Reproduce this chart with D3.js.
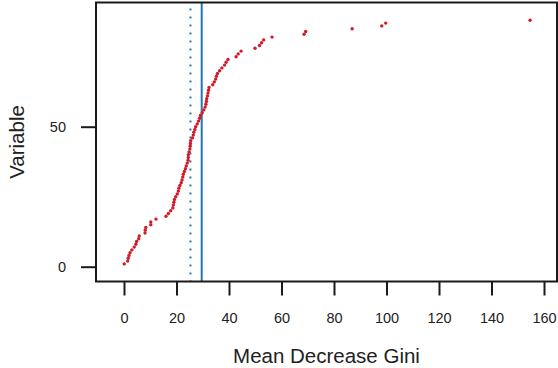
<!DOCTYPE html>
<html>
<head>
<meta charset="utf-8">
<script src="https://cdn.jsdelivr.net/npm/d3@7"></script>
<style>
  html, body { margin: 0; padding: 0; background: #fff; }
  svg text { font-family: "Liberation Sans", Arial, sans-serif; fill: #222; }
</style>
</head>
<body>
<div id="chart"></div>
<script>
var svgWidth = 558;
var svgHeight = 368;

// mean decrease gini per variable, sorted (variable rank 1..88)
var giniValues = [
  0.1, 1.4, 1.6, 1.9, 2.3, 3.0, 3.9, 4.5, 4.8, 5.6,
  5.8, 8.0, 8.1, 8.3, 10.2, 10.2, 12.2, 16.0, 16.9, 17.8,
  18.6, 18.8, 19.0, 19.2, 19.7, 20.3, 20.7, 20.9, 21.3, 21.8,
  22.1, 22.4, 22.6, 23.0, 23.4, 23.7, 24.1, 24.4, 24.5, 24.5,
  24.8, 25.1, 25.2, 25.3, 25.4, 26.1, 26.4, 26.6, 27.0, 27.3,
  27.9, 28.4, 28.8, 29.1, 29.8, 30.4, 30.9, 31.2, 31.4, 31.5,
  31.8, 32.0, 32.2, 32.4, 33.8, 34.4, 34.9, 35.2, 35.6, 36.4,
  37.3, 38.3, 38.9, 39.6, 42.7, 43.5, 44.6, 49.9, 51.6, 52.4,
  53.2, 56.4, 68.6, 69.2, 86.9, 98.2, 99.7, 154.7
];
var xTicks = [0, 20, 40, 60, 80, 100, 120, 140, 160];
var yTicks = [0, 50];
var medianLine = 25.3;
var meanLine = 29.6;

var box = { left: 96, right: 557, top: 2.5, bottom: 281.5 };

var svg = d3.select('#chart')
  .append('svg')
  .attr('width', svgWidth)
  .attr('height', svgHeight);

var x = d3.scaleLinear().domain([0, 160]).range([124, 544]);
var y = d3.scaleLinear().domain([0, 50]).range([266.7, 126.7]);

// vertical reference lines
svg.append('line')
  .attr('x1', x(medianLine)).attr('x2', x(medianLine))
  .attr('y1', box.top + 6).attr('y2', box.bottom)
  .attr('stroke', '#1f78b4')
  .attr('stroke-width', 2)
  .attr('stroke-dasharray', '2 6');

svg.append('line')
  .attr('x1', x(meanLine)).attr('x2', x(meanLine))
  .attr('y1', box.top).attr('y2', box.bottom)
  .attr('stroke', '#1f78b4')
  .attr('stroke-width', 2);

// points
svg.selectAll('circle.pt')
  .data(giniValues)
  .enter()
  .append('circle')
  .attr('class', 'pt')
  .attr('cx', function (d) { return x(d); })
  .attr('cy', function (d, i) { return y(i + 1); })
  .attr('r', 1.7)
  .attr('fill', '#d01c2a');

// box
svg.append('rect')
  .attr('x', box.left).attr('y', box.top)
  .attr('width', box.right - box.left)
  .attr('height', box.bottom - box.top)
  .attr('fill', 'none')
  .attr('stroke', '#1a1a1a')
  .attr('stroke-width', 2);

// x axis
var xAxis = d3.axisBottom(x)
  .tickValues(xTicks)
  .tickSize(14)
  .tickPadding(17)
  .tickFormat(d3.format('d'));
var gx = svg.append('g')
  .attr('transform', 'translate(0,' + box.bottom + ')')
  .call(xAxis);
gx.select('.domain').remove();
gx.selectAll('line').attr('stroke', '#1a1a1a').attr('stroke-width', 2);
gx.selectAll('text').attr('font-size', '14.5px').style('fill', '#222');

// y axis
var yAxis = d3.axisLeft(y)
  .tickValues(yTicks)
  .tickSize(15)
  .tickPadding(15)
  .tickFormat(d3.format('d'));
var gy = svg.append('g')
  .attr('transform', 'translate(' + box.left + ',0)')
  .call(yAxis);
gy.select('.domain').remove();
gy.selectAll('line').attr('stroke', '#1a1a1a').attr('stroke-width', 2);
gy.selectAll('text').attr('font-size', '14.5px').style('fill', '#222');

// axis titles
svg.append('text')
  .attr('x', (box.left + box.right) / 2)
  .attr('y', 363)
  .attr('text-anchor', 'middle')
  .attr('font-size', '20.5px')
  .text('Mean Decrease Gini');

svg.append('text')
  .attr('transform', 'translate(24,' + (box.top + box.bottom) / 2 + ') rotate(-90)')
  .attr('text-anchor', 'middle')
  .attr('font-size', '20.5px')
  .text('Variable');
</script>
</body>
</html>
